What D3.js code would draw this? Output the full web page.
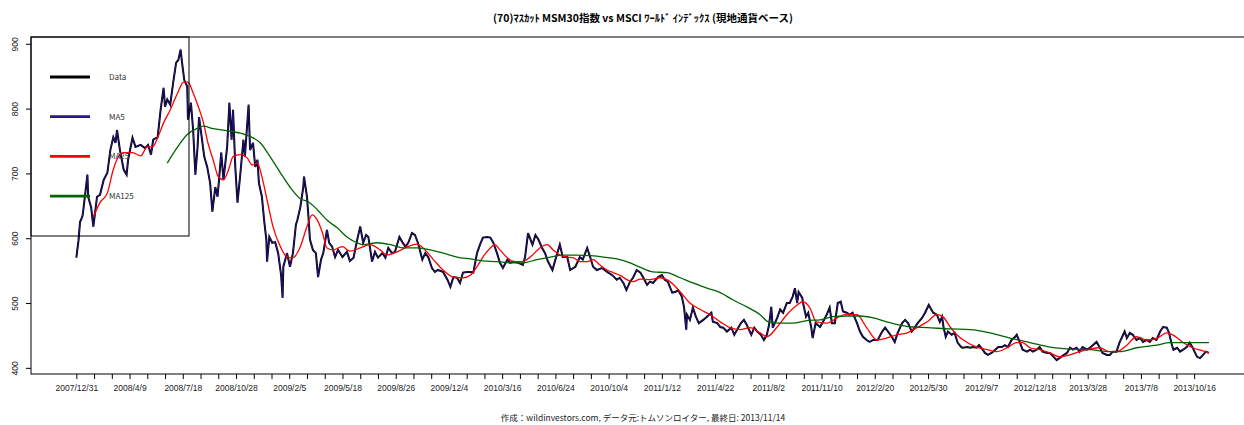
<!DOCTYPE html>
<html lang="ja">
  <head>
    <meta charset="UTF-8" />
    <title>MSM30 vs MSCI World</title>
    <script src="https://cdn.jsdelivr.net/npm/d3@7/dist/d3.min.js"></script>
    <style>
      body {
        margin: 0;
        background: #ffffff;
        font-family: "Noto Sans CJK JP", sans-serif;
      }
    </style>
  </head>
  <body>
    <div id="chart"></div>
    <script>
      // trading-day index (0 = 2007/12/31) and close values
      const dataIdx = [0,3,5,8,9,15,16,20,23,28,32,37,42,46,50,53,55,59,64,68,70,76,80,87,93,97,101,104,110,114,118,120,123,127,131,135,138,141,143,146,150,151,155,158,161,164,166,170,173,177,181,184,188,191,193,196,199,204,207,210,212,215,218,222,226,228,233,235,239,242,245,247,251,254,257,258,261,265,269,273,277,279,280,285,289,293,297,299,303,307,308,312,314,316,320,324,327,331,334,339,342,346,350,354,360,366,370,375,380,384,388,392,395,400,404,408,414,418,422,427,431,437,441,445,449,454,458,462,468,472,476,481,485,489,496,502,506,510,515,519,523,529,533,537,542,546,550,556,560,564,569,573,577,583,587,591,598,604,607,611,617,621,625,630,634,638,644,648,654,658,664,668,675,681,685,691,695,699,704,711,718,725,731,735,740,744,749,753,758,763,767,772,776,780,787,792,796,800,806,810,814,819,822,825,826,830,834,838,842,848,853,859,861,867,871,875,880,886,890,894,899,903,907,913,917,921,926,930,934,937,940,942,948,952,956,961,965,969,972,975,977,982,983,987,990,994,996,1000,1006,1010,1015,1019,1022,1026,1030,1034,1037,1042,1046,1050,1056,1060,1064,1069,1073,1078,1084,1090,1094,1098,1103,1107,1111,1117,1121,1125,1130,1134,1138,1144,1148,1153,1159,1164,1168,1171,1173,1176,1179,1184,1188,1192,1197,1199,1205,1209,1213,1218,1221,1226,1229,1233,1238,1243,1247,1252,1256,1260,1265,1270,1272,1276,1280,1286,1290,1294,1299,1303,1307,1313,1317,1322,1326,1332,1336,1340,1344,1348,1353,1357,1361,1367,1371,1375,1380,1384,1388,1394,1398,1402,1407,1411,1416,1418,1421,1425,1429,1434,1439,1443,1448,1452,1456,1461,1466,1470,1475,1478,1482,1484,1489,1493,1497,1502,1506,1510,1516,1520,1524,1528,1532];
      const dataVal = [570,597,625,633,639,698,664,648,618,664,667,690,701,736,756,747,767,736,706,698,721,755,741,744,739,744,729,752,756,798,832,803,814,806,840,871,875,891,871,844,834,783,809,767,698,741,787,752,726,710,685,641,679,664,690,732,690,741,809,752,798,710,655,701,752,726,806,736,747,710,721,685,664,628,598,564,602,593,594,577,543,508,556,577,556,577,621,628,648,679,695,664,633,598,582,577,540,567,577,613,593,587,571,582,571,579,565,570,598,618,593,605,602,564,579,570,577,570,585,577,579,602,594,587,593,608,605,593,567,577,571,554,548,551,548,536,525,540,539,531,547,548,548,547,577,590,601,602,601,593,577,562,554,567,562,564,562,559,571,608,590,605,598,585,577,564,551,567,590,571,571,551,556,571,567,585,571,556,551,554,548,543,536,539,531,520,533,539,551,547,539,528,533,531,540,543,536,533,516,517,520,510,494,459,482,474,493,479,469,474,479,485,471,469,463,462,456,462,451,459,469,474,466,451,462,456,451,443,451,466,494,462,477,490,485,500,500,510,523,500,517,508,500,479,485,463,446,469,463,471,482,493,469,469,500,502,487,485,482,485,469,456,448,443,440,443,443,456,462,456,448,440,454,469,474,469,456,462,469,477,485,497,485,482,471,479,463,448,456,451,454,439,432,431,432,431,432,431,435,428,423,420,423,428,432,432,435,432,443,448,451,440,428,425,428,425,428,432,425,423,423,417,412,417,420,423,431,428,431,425,432,428,431,435,440,432,423,420,420,425,425,439,451,456,446,454,451,443,446,440,443,440,446,443,456,463,462,454,435,428,431,425,428,432,439,431,417,415,420,425,423];

      const ma25Idx = [23,32,42,50,57,64,76,87,96,103,110,118,127,137,145,151,158,165,172,178,185,192,199,206,212,222,231,238,245,251,258,266,276,285,293,303,312,319,326,333,339,347,360,370,384,397,411,420,434,448,461,469,483,496,510,523,533,542,550,560,566,573,583,591,603,614,627,637,645,654,664,672,681,691,699,708,718,726,735,745,753,763,776,789,803,817,830,844,857,871,884,898,911,925,934,948,961,975,983,992,1001,1015,1029,1042,1056,1069,1083,1096,1110,1124,1137,1151,1164,1172,1182,1191,1205,1218,1232,1245,1259,1272,1280,1290,1303,1317,1330,1344,1357,1371,1384,1398,1407,1421,1434,1448,1461,1475,1483,1497,1510,1524,1532];
      const ma25Val = [633,655,670,706,726,732,732,727,741,741,755,778,798,824,841,841,824,803,778,747,721,695,690,706,726,729,724,713,716,695,659,618,587,571,570,587,618,636,628,608,585,582,587,580,585,590,582,574,579,587,591,585,567,551,540,539,543,556,571,585,590,582,570,564,564,571,585,590,582,574,571,570,564,564,567,559,551,547,543,536,533,537,536,539,533,517,500,490,482,471,462,459,462,454,448,463,482,497,502,493,471,469,477,483,482,462,443,446,451,454,462,471,482,479,463,451,439,432,428,425,431,439,439,431,428,423,417,420,425,429,431,425,425,435,448,443,445,454,451,439,431,426,423];

      const ma125Idx = [123,137,150,164,172,185,204,222,235,249,262,276,289,303,314,326,339,353,366,380,388,407,425,442,461,479,496,515,533,550,569,587,604,623,641,658,677,695,713,731,749,763,780,799,817,834,853,871,888,907,925,936,952,969,988,1006,1023,1042,1060,1078,1096,1114,1132,1151,1182,1209,1236,1263,1290,1317,1344,1371,1398,1411,1434,1461,1479,1506,1532];
      const ma125Val = [716,741,760,770,773,769,766,762,757,747,726,701,679,661,656,644,628,616,602,593,590,593,590,585,585,582,577,571,568,565,564,562,562,567,571,574,574,573,571,568,562,555,548,547,539,531,523,516,505,494,482,471,469,469,473,474,479,480,480,477,471,466,463,462,460,459,454,446,439,432,429,428,425,425,431,435,439,439,439];

      const tickLabels = ["2007/12/31","2008/4/9","2008/7/18","2008/10/28","2009/2/5","2009/5/18","2009/8/26","2009/12/4","2010/3/16","2010/6/24","2010/10/4","2011/1/12","2011/4/22","2011/8/2","2011/11/10","2012/2/20","2012/5/30","2012/9/7","2012/12/18","2013/3/28","2013/7/8","2013/10/16"];
      const yTicks = [400, 500, 600, 700, 800, 900];
      const legendNames = ["Data", "MA5", "MA25", "MA125"];
      const legendColors = ["#000000", "#2a1490", "#ff0000", "#006400"];

      const title = "(70)ﾏｽｶｯﾄ MSM30指数 vs MSCI ﾜｰﾙﾄﾞ ｲﾝﾃﾞｯｸｽ (現地通貨ベース)";
      const footer = "作成：wildinvestors.com, データ元:トムソンロイター, 最終日: 2013/11/14";

      const W = 1244, H = 425;
      // plot box: R pads 4% each side, right edge falls outside the window
      const box = { left: 31, top: 37, right: 1255, bottom: 374 };
      const nObs = 1533;
      const pad = nObs * 0.04;

      const svg = d3
        .select("#chart")
        .append("svg")
        .attr("width", W)
        .attr("height", H)
        .style("font-family", '"Noto Sans CJK JP", sans-serif');

      const x = d3.scaleLinear().domain([-pad, nObs + pad]).range([box.left, box.right]);
      const y = d3.scaleLinear().domain([390.5, 910.5]).range([box.bottom, box.top]);

      const tickIdx = d3.range(0, 1513, 24);

      // x axis
      const xAxis = svg
        .append("g")
        .attr("transform", `translate(0,${box.bottom})`)
        .call(
          d3
            .axisBottom(x)
            .tickValues(tickIdx)
            .tickSizeInner(5)
            .tickSizeOuter(0)
            .tickPadding(6)
            .tickFormat((d) => (d % 72 === 0 ? tickLabels[d / 72] : ""))
        );
      xAxis.select(".domain").remove();
      xAxis.selectAll(".tick line").attr("stroke", "#000");
      xAxis
        .selectAll(".tick text")
        .attr("fill", "#222")
        .style("font-size", "8.5px");

      // y axis
      const yAxis = svg
        .append("g")
        .attr("transform", `translate(${box.left},0)`)
        .call(d3.axisLeft(y).tickValues(yTicks).tickSizeInner(5).tickSizeOuter(0).tickPadding(6));
      yAxis.select(".domain").remove();
      yAxis.selectAll(".tick line").attr("stroke", "#000");
      yAxis
        .selectAll(".tick text")
        .attr("fill", "#222")
        .style("font-size", "8.5px")
        .attr("text-anchor", "middle")
        .attr("x", -16)
        .attr("dy", "0.32em")
        .attr("transform", "rotate(-90, -16, 0)");

      // frame
      svg
        .append("rect")
        .attr("x", box.left)
        .attr("y", box.top)
        .attr("width", box.right - box.left)
        .attr("height", box.bottom - box.top)
        .attr("fill", "none")
        .attr("stroke", "#000")
        .attr("stroke-width", 1);

      svg
        .append("clipPath")
        .attr("id", "plotclip")
        .append("rect")
        .attr("x", box.left)
        .attr("y", box.top)
        .attr("width", box.right - box.left)
        .attr("height", box.bottom - box.top);

      const plot = svg.append("g").attr("clip-path", "url(#plotclip)");

      const line = d3
        .line()
        .x((d) => x(d[0]))
        .y((d) => y(d[1]));

      const smooth = d3
        .line()
        .x((d) => x(d[0]))
        .y((d) => y(d[1]))
        .curve(d3.curveMonotoneX);

      const dataPts = dataIdx.map((d, i) => [d, dataVal[i]]);
      const ma25Pts = ma25Idx.map((d, i) => [d, ma25Val[i]]);
      const ma125Pts = ma125Idx.map((d, i) => [d, ma125Val[i]]);

      // Data (black), MA5 (blue, drawn over the data), MA25, MA125
      plot
        .append("path")
        .datum(dataPts)
        .attr("fill", "none")
        .attr("stroke", legendColors[0])
        .attr("stroke-width", 2)
        .attr("stroke-linejoin", "miter")
        .attr("d", line);

      plot
        .append("path")
        .datum(dataPts)
        .attr("fill", "none")
        .attr("stroke", legendColors[1])
        .attr("stroke-width", 0.9)
        .attr("stroke-linejoin", "round")
        .attr("d", line);

      plot
        .append("path")
        .datum(ma25Pts)
        .attr("fill", "none")
        .attr("stroke", legendColors[2])
        .attr("stroke-width", 1.3)
        .attr("d", smooth);

      plot
        .append("path")
        .datum(ma125Pts)
        .attr("fill", "none")
        .attr("stroke", legendColors[3])
        .attr("stroke-width", 1.3)
        .attr("d", smooth);

      // legend box in the top-left corner
      const legend = svg.append("g");
      legend
        .append("rect")
        .attr("x", box.left)
        .attr("y", box.top)
        .attr("width", 158)
        .attr("height", 199)
        .attr("fill", "none")
        .attr("stroke", "#000")
        .attr("stroke-width", 1);

      legendNames.forEach((name, i) => {
        const ly = 77 + i * 39.7;
        legend
          .append("line")
          .attr("x1", 50)
          .attr("x2", 90)
          .attr("y1", ly)
          .attr("y2", ly)
          .attr("stroke", legendColors[i])
          .attr("stroke-width", 2.8);
        legend
          .append("text")
          .attr("x", 109)
          .attr("y", ly)
          .attr("dy", "0.35em")
          .attr("fill", "#333")
          .style("font-size", "8px")
          .text(name);
      });

      // title and footer
      svg
        .append("text")
        .attr("x", 643)
        .attr("y", 22)
        .attr("text-anchor", "middle")
        .style("font-size", "10.5px")
        .style("font-weight", "bold")
        .text(title);

      svg
        .append("text")
        .attr("x", 643)
        .attr("y", 421)
        .attr("text-anchor", "middle")
        .attr("fill", "#222")
        .style("font-size", "8.5px")
        .text(footer);
    </script>
  </body>
</html>
